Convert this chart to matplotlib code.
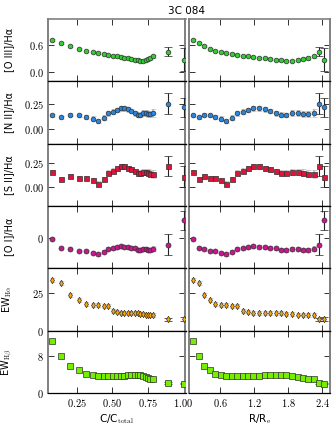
import matplotlib
matplotlib.use("Agg")
import matplotlib.pyplot as plt
from matplotlib.ticker import FixedLocator, FixedFormatter

plt.rcParams['mathtext.fontset'] = 'cm'
plt.rcParams['font.family'] = ['DejaVu Sans']

title = "3C 084"

# x positions
x_c = [0.072, 0.137, 0.203, 0.266, 0.315, 0.36, 0.40, 0.438, 0.47, 0.501, 0.53, 0.558,
       0.583, 0.609, 0.632, 0.656, 0.677, 0.696, 0.715, 0.734, 0.75, 0.766, 0.783]
x_r = [0.13, 0.23, 0.32, 0.42, 0.52, 0.61, 0.71, 0.81, 0.90, 1.00, 1.10, 1.19,
       1.29, 1.39, 1.48, 1.58, 1.68, 1.77, 1.87, 1.97, 2.06, 2.16, 2.26]
x_c_extra = [0.89, 1.00]
x_r_extra = [2.35, 2.44]

# [O III]/Ha
oiii = [0.71, 0.64, 0.57, 0.51, 0.47, 0.44, 0.42, 0.40, 0.38, 0.36, 0.34, 0.33,
        0.31, 0.30, 0.29, 0.27, 0.25, 0.24, 0.24, 0.27, 0.29, 0.31, 0.34]
oiii_err = [0.02, 0.02, 0.02, 0.02, 0.02, 0.02, 0.02, 0.02, 0.02, 0.02, 0.02, 0.02,
            0.02, 0.02, 0.02, 0.02, 0.02, 0.03, 0.03, 0.03, 0.03, 0.04, 0.04]
oiii_extra = [0.45, 0.27]
oiii_extra_err = [0.09, 0.25]

# [N II]/Ha
nii = [0.137, 0.117, 0.144, 0.137, 0.123, 0.103, 0.079, 0.113, 0.158, 0.175, 0.192, 0.209,
       0.212, 0.199, 0.182, 0.158, 0.144, 0.141, 0.158, 0.158, 0.151, 0.151, 0.161]
nii_err = [0.015, 0.015, 0.015, 0.015, 0.02, 0.025, 0.025, 0.025, 0.025, 0.025, 0.025, 0.025,
           0.025, 0.025, 0.025, 0.025, 0.025, 0.025, 0.03, 0.03, 0.035, 0.035, 0.04]
nii_extra = [0.257, 0.22]
nii_extra_err = [0.11, 0.10]

# [S II]/Ha
sii = [0.157, 0.089, 0.116, 0.099, 0.092, 0.072, 0.037, 0.085, 0.150, 0.171, 0.195, 0.216,
       0.216, 0.195, 0.185, 0.164, 0.147, 0.147, 0.154, 0.157, 0.147, 0.140, 0.134]
sii_err = [0.015, 0.015, 0.015, 0.015, 0.02, 0.02, 0.025, 0.025, 0.025, 0.025, 0.025, 0.025,
           0.025, 0.025, 0.025, 0.025, 0.025, 0.025, 0.03, 0.03, 0.035, 0.035, 0.04]
sii_extra = [0.219, 0.109]
sii_extra_err = [0.10, 0.11]

# [O I]/Ha
oi = [-0.012, -0.105, -0.112, -0.132, -0.136, -0.153, -0.170, -0.146, -0.112, -0.108, -0.098, -0.088,
      -0.091, -0.098, -0.101, -0.108, -0.122, -0.129, -0.115, -0.119, -0.125, -0.122, -0.115]
oi_err = [0.01, 0.01, 0.01, 0.01, 0.01, 0.01, 0.015, 0.015, 0.015, 0.015, 0.015, 0.015,
          0.015, 0.015, 0.015, 0.015, 0.015, 0.015, 0.02, 0.02, 0.02, 0.02, 0.025]
oi_extra = [-0.07, 0.18]
oi_extra_err = [0.103, 0.096]

# EW Ha
ewha = [33.4, 31.8, 23.7, 20.1, 17.9, 17.0, 17.0, 16.5, 16.3, 13.2, 12.3, 11.6,
        11.4, 11.4, 11.4, 11.4, 11.6, 11.2, 10.9, 10.7, 10.5, 10.5, 10.5]
ewha_err = [1.3, 1.3, 1.3, 1.3, 1.3, 1.3, 1.3, 1.3, 1.3, 1.3, 1.3, 1.3,
            1.3, 1.3, 1.3, 1.3, 1.3, 1.3, 1.3, 1.3, 1.3, 1.3, 1.3]
ewha_extra = [7.4, 7.8]
ewha_extra_err = [1.2, 1.2]

# EW Hb
ewhb = [11.2, 7.9, 5.9, 4.85, 4.14, 3.78, 3.65, 3.56, 3.56, 3.56, 3.65, 3.71,
        3.71, 3.78, 3.78, 3.86, 3.86, 3.78, 3.65, 3.50, 3.28, 3.07, 3.00]
ewhb_err = [0.15, 0.15, 0.15, 0.15, 0.15, 0.15, 0.15, 0.15, 0.15, 0.15, 0.15, 0.15,
            0.15, 0.15, 0.15, 0.15, 0.15, 0.15, 0.15, 0.15, 0.15, 0.15, 0.15]
ewhb_extra = [2.15, 2.0]
ewhb_extra_err = [0.15, 0.15]

ylabels = ['[O III]/Hα', '[N II]/Hα', '[S II]/Hα', '[O I]/Hα',
           r'EW$_{\mathrm{H\alpha}}$', r'EW$_{\mathrm{H\beta}}$']
ylims = [(-0.22, 1.18), (-0.157, 0.49), (-0.19, 0.445), (-0.314, 0.325), (0, 41.3), (0, 13.4)]
yticks = [[0.0, 0.6], [0.0, 0.25], [0.0, 0.25], [0.0], [0, 25], [0, 8]]
yticklabels = [['$0.0$', '$0.6$'], ['$0.00$', '$0.25$'], ['$0.00$', '$0.25$'], ['$0$'],
               ['$0$', '$25$'], ['$0$', '$8$']]
colors = ['#33cc33', '#2b86dd', '#dc143c', '#c8168c', '#ffa500', '#77ee00']
markers = ['o', 'o', 's', 'o', 'd', 's']
msizes = [3.4, 3.4, 3.6, 3.6, 3.3, 3.8]

series = [(oiii, oiii_err, oiii_extra, oiii_extra_err),
          (nii, nii_err, nii_extra, nii_extra_err),
          (sii, sii_err, sii_extra, sii_extra_err),
          (oi, oi_err, oi_extra, oi_extra_err),
          (ewha, ewha_err, ewha_extra, ewha_extra_err),
          (ewhb, ewhb_err, ewhb_extra, ewhb_extra_err)]

W, H = 336, 426
fig = plt.figure(figsize=(W / 100, H / 100), dpi=100)

top0 = 19.0
ph = (393.0 - 19.0) / 6
lx0, lx1 = 48.0, 185.5
rx0, rx1 = 189.0, 330.0

xlim_c = (0.046, 1.014)
xlim_r = (0.053, 2.54)
xt_c = [0.25, 0.50, 0.75, 1.00]
xtl_c = ['$0.25$', '$0.50$', '$0.75$', '$1.00$']
xt_r = [0.6, 1.2, 1.8, 2.4]
xtl_r = ['$0.6$', '$1.2$', '$1.8$', '$2.4$']


def style(ax, i, left):
    for s in ['left', 'right']:
        ax.spines[s].set_color('#808080')
        ax.spines[s].set_linewidth(1.4)
    for s in ['top', 'bottom']:
        ax.spines[s].set_color('black')
        ax.spines[s].set_linewidth(0.9)
    if i == 0:
        ax.spines['top'].set_color('#808080')
        ax.spines['top'].set_linewidth(1.2)
    ax.tick_params(direction='in', top=True, right=True, length=4, width=0.7,
                   color='#333333', labelsize=7.5, pad=3)


for i in range(6):
    top = top0 + ph * i
    bottom = top + ph
    for left in (True, False):
        x0, x1 = (lx0, lx1) if left else (rx0, rx1)
        ax = fig.add_axes([x0 / W, 1 - bottom / H, (x1 - x0) / W, ph / H])
        y, ye, yx, yxe = series[i]
        xs = x_c if left else x_r
        xe = x_c_extra if left else x_r_extra
        ax.errorbar(xs, y, yerr=ye, fmt=markers[i], color=colors[i], mec='#303030',
                    mew=0.5, ms=msizes[i], ecolor='#bdbdbd', elinewidth=1.2,
                    capsize=1.8, capthick=1.1, zorder=3)
        ax.errorbar(xe, yx, yerr=yxe, fmt=markers[i], color=colors[i], mec='#303030',
                    mew=0.5, ms=msizes[i], ecolor='#222222', elinewidth=0.8,
                    capsize=3.0, capthick=0.8, zorder=3)
        ax.set_xlim(xlim_c if left else xlim_r)
        ax.set_ylim(ylims[i])
        ax.yaxis.set_major_locator(FixedLocator(yticks[i]))
        ax.yaxis.set_major_formatter(FixedFormatter(yticklabels[i]))
        if left:
            ax.xaxis.set_major_locator(FixedLocator(xt_c))
            ax.xaxis.set_major_formatter(FixedFormatter(xtl_c))
        else:
            ax.xaxis.set_major_locator(FixedLocator(xt_r))
            ax.xaxis.set_major_formatter(FixedFormatter(xtl_r))
        style(ax, i, left)
        if not left:
            ax.tick_params(labelleft=False)
        else:
            ax.set_ylabel(ylabels[i], fontsize=7)
            ax.yaxis.set_label_coords(-0.25, 0.5)
        if i < 5:
            ax.tick_params(labelbottom=False)
        else:
            if left:
                ax.set_xlabel(r'C/C$_{\mathrm{total}}$', fontsize=7.5, labelpad=2)
            else:
                ax.set_xlabel(r'R/R$_{\mathrm{e}}$', fontsize=7.5, labelpad=2)

fig.text(186 / W, 1 - 11 / H, title, ha='center', va='center', fontsize=7.5)

fig.savefig('out.png', dpi=100)
